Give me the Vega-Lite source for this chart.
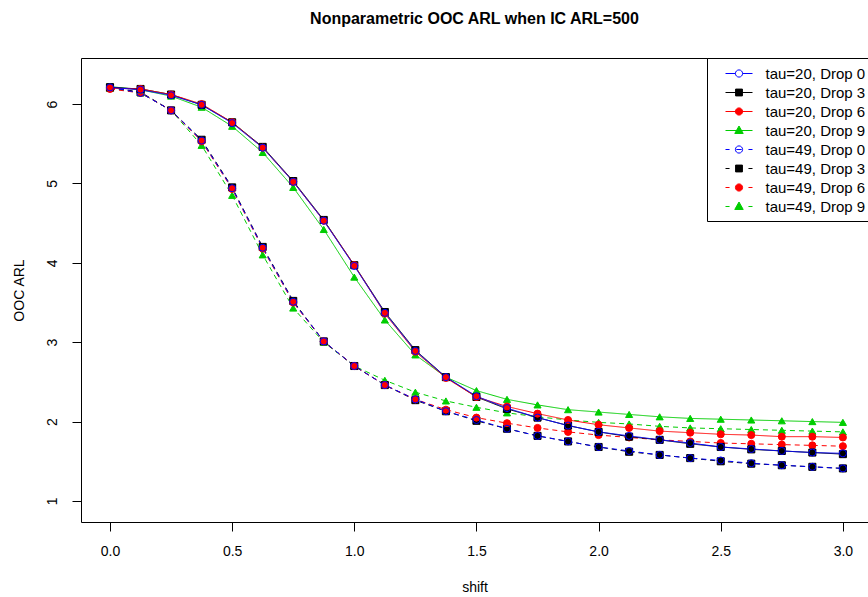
{
  "$schema": "https://vega.github.io/schema/vega-lite/v6.json",
  "width": 787,
  "height": 464,
  "autosize": {"type": "none"},
  "padding": {"left": 81, "top": 58, "right": 0, "bottom": 75},
  "background": "white",
  "title": {"text": "Nonparametric OOC ARL when IC ARL=500", "font": "Liberation Sans", "fontSize": 16, "fontWeight": "bold", "color": "black", "anchor": "middle", "baseline": "alphabetic", "offset": 18},
  "datasets": {
    "arl": [
      {"shift": 0, "arl": 6.20, "series": "tau=49, Drop 9"},
      {"shift": 0.125, "arl": 6.14, "series": "tau=49, Drop 9"},
      {"shift": 0.25, "arl": 5.92, "series": "tau=49, Drop 9"},
      {"shift": 0.375, "arl": 5.48, "series": "tau=49, Drop 9"},
      {"shift": 0.5, "arl": 4.85, "series": "tau=49, Drop 9"},
      {"shift": 0.625, "arl": 4.10, "series": "tau=49, Drop 9"},
      {"shift": 0.75, "arl": 3.43, "series": "tau=49, Drop 9"},
      {"shift": 0.875, "arl": 3.00, "series": "tau=49, Drop 9"},
      {"shift": 1, "arl": 2.70, "series": "tau=49, Drop 9"},
      {"shift": 1.125, "arl": 2.52, "series": "tau=49, Drop 9"},
      {"shift": 1.25, "arl": 2.37, "series": "tau=49, Drop 9"},
      {"shift": 1.375, "arl": 2.26, "series": "tau=49, Drop 9"},
      {"shift": 1.5, "arl": 2.18, "series": "tau=49, Drop 9"},
      {"shift": 1.625, "arl": 2.11, "series": "tau=49, Drop 9"},
      {"shift": 1.75, "arl": 2.06, "series": "tau=49, Drop 9"},
      {"shift": 1.875, "arl": 2.02, "series": "tau=49, Drop 9"},
      {"shift": 2, "arl": 1.99, "series": "tau=49, Drop 9"},
      {"shift": 2.125, "arl": 1.97, "series": "tau=49, Drop 9"},
      {"shift": 2.25, "arl": 1.94, "series": "tau=49, Drop 9"},
      {"shift": 2.375, "arl": 1.92, "series": "tau=49, Drop 9"},
      {"shift": 2.5, "arl": 1.91, "series": "tau=49, Drop 9"},
      {"shift": 2.625, "arl": 1.90, "series": "tau=49, Drop 9"},
      {"shift": 2.75, "arl": 1.89, "series": "tau=49, Drop 9"},
      {"shift": 2.875, "arl": 1.88, "series": "tau=49, Drop 9"},
      {"shift": 3, "arl": 1.87, "series": "tau=49, Drop 9"},

      {"shift": 0, "arl": 6.21, "series": "tau=49, Drop 3"},
      {"shift": 0.125, "arl": 6.15, "series": "tau=49, Drop 3"},
      {"shift": 0.25, "arl": 5.92, "series": "tau=49, Drop 3"},
      {"shift": 0.375, "arl": 5.55, "series": "tau=49, Drop 3"},
      {"shift": 0.5, "arl": 4.95, "series": "tau=49, Drop 3"},
      {"shift": 0.625, "arl": 4.20, "series": "tau=49, Drop 3"},
      {"shift": 0.75, "arl": 3.52, "series": "tau=49, Drop 3"},
      {"shift": 0.875, "arl": 3.01, "series": "tau=49, Drop 3"},
      {"shift": 1, "arl": 2.70, "series": "tau=49, Drop 3"},
      {"shift": 1.125, "arl": 2.46, "series": "tau=49, Drop 3"},
      {"shift": 1.25, "arl": 2.27, "series": "tau=49, Drop 3"},
      {"shift": 1.375, "arl": 2.13, "series": "tau=49, Drop 3"},
      {"shift": 1.5, "arl": 2.01, "series": "tau=49, Drop 3"},
      {"shift": 1.625, "arl": 1.91, "series": "tau=49, Drop 3"},
      {"shift": 1.75, "arl": 1.82, "series": "tau=49, Drop 3"},
      {"shift": 1.875, "arl": 1.75, "series": "tau=49, Drop 3"},
      {"shift": 2, "arl": 1.68, "series": "tau=49, Drop 3"},
      {"shift": 2.125, "arl": 1.62, "series": "tau=49, Drop 3"},
      {"shift": 2.25, "arl": 1.58, "series": "tau=49, Drop 3"},
      {"shift": 2.375, "arl": 1.54, "series": "tau=49, Drop 3"},
      {"shift": 2.5, "arl": 1.50, "series": "tau=49, Drop 3"},
      {"shift": 2.625, "arl": 1.47, "series": "tau=49, Drop 3"},
      {"shift": 2.75, "arl": 1.45, "series": "tau=49, Drop 3"},
      {"shift": 2.875, "arl": 1.43, "series": "tau=49, Drop 3"},
      {"shift": 3, "arl": 1.41, "series": "tau=49, Drop 3"},

      {"shift": 0, "arl": 6.19, "series": "tau=49, Drop 6"},
      {"shift": 0.125, "arl": 6.14, "series": "tau=49, Drop 6"},
      {"shift": 0.25, "arl": 5.92, "series": "tau=49, Drop 6"},
      {"shift": 0.375, "arl": 5.53, "series": "tau=49, Drop 6"},
      {"shift": 0.5, "arl": 4.93, "series": "tau=49, Drop 6"},
      {"shift": 0.625, "arl": 4.18, "series": "tau=49, Drop 6"},
      {"shift": 0.75, "arl": 3.50, "series": "tau=49, Drop 6"},
      {"shift": 0.875, "arl": 3.01, "series": "tau=49, Drop 6"},
      {"shift": 1, "arl": 2.70, "series": "tau=49, Drop 6"},
      {"shift": 1.125, "arl": 2.46, "series": "tau=49, Drop 6"},
      {"shift": 1.25, "arl": 2.28, "series": "tau=49, Drop 6"},
      {"shift": 1.375, "arl": 2.15, "series": "tau=49, Drop 6"},
      {"shift": 1.5, "arl": 2.05, "series": "tau=49, Drop 6"},
      {"shift": 1.625, "arl": 1.98, "series": "tau=49, Drop 6"},
      {"shift": 1.75, "arl": 1.92, "series": "tau=49, Drop 6"},
      {"shift": 1.875, "arl": 1.87, "series": "tau=49, Drop 6"},
      {"shift": 2, "arl": 1.83, "series": "tau=49, Drop 6"},
      {"shift": 2.125, "arl": 1.80, "series": "tau=49, Drop 6"},
      {"shift": 2.25, "arl": 1.77, "series": "tau=49, Drop 6"},
      {"shift": 2.375, "arl": 1.75, "series": "tau=49, Drop 6"},
      {"shift": 2.5, "arl": 1.73, "series": "tau=49, Drop 6"},
      {"shift": 2.625, "arl": 1.72, "series": "tau=49, Drop 6"},
      {"shift": 2.75, "arl": 1.71, "series": "tau=49, Drop 6"},
      {"shift": 2.875, "arl": 1.70, "series": "tau=49, Drop 6"},
      {"shift": 3, "arl": 1.69, "series": "tau=49, Drop 6"},

      {"shift": 0, "arl": 6.21, "series": "tau=49, Drop 0"},
      {"shift": 0.125, "arl": 6.14, "series": "tau=49, Drop 0"},
      {"shift": 0.25, "arl": 5.92, "series": "tau=49, Drop 0"},
      {"shift": 0.375, "arl": 5.54, "series": "tau=49, Drop 0"},
      {"shift": 0.5, "arl": 4.94, "series": "tau=49, Drop 0"},
      {"shift": 0.625, "arl": 4.19, "series": "tau=49, Drop 0"},
      {"shift": 0.75, "arl": 3.51, "series": "tau=49, Drop 0"},
      {"shift": 0.875, "arl": 3.01, "series": "tau=49, Drop 0"},
      {"shift": 1, "arl": 2.70, "series": "tau=49, Drop 0"},
      {"shift": 1.125, "arl": 2.46, "series": "tau=49, Drop 0"},
      {"shift": 1.25, "arl": 2.28, "series": "tau=49, Drop 0"},
      {"shift": 1.375, "arl": 2.13, "series": "tau=49, Drop 0"},
      {"shift": 1.5, "arl": 2.02, "series": "tau=49, Drop 0"},
      {"shift": 1.625, "arl": 1.91, "series": "tau=49, Drop 0"},
      {"shift": 1.75, "arl": 1.82, "series": "tau=49, Drop 0"},
      {"shift": 1.875, "arl": 1.75, "series": "tau=49, Drop 0"},
      {"shift": 2, "arl": 1.68, "series": "tau=49, Drop 0"},
      {"shift": 2.125, "arl": 1.63, "series": "tau=49, Drop 0"},
      {"shift": 2.25, "arl": 1.58, "series": "tau=49, Drop 0"},
      {"shift": 2.375, "arl": 1.54, "series": "tau=49, Drop 0"},
      {"shift": 2.5, "arl": 1.51, "series": "tau=49, Drop 0"},
      {"shift": 2.625, "arl": 1.475, "series": "tau=49, Drop 0"},
      {"shift": 2.75, "arl": 1.45, "series": "tau=49, Drop 0"},
      {"shift": 2.875, "arl": 1.43, "series": "tau=49, Drop 0"},
      {"shift": 3, "arl": 1.41, "series": "tau=49, Drop 0"},

      {"shift": 0, "arl": 6.22, "series": "tau=20, Drop 9"},
      {"shift": 0.125, "arl": 6.18, "series": "tau=20, Drop 9"},
      {"shift": 0.25, "arl": 6.10, "series": "tau=20, Drop 9"},
      {"shift": 0.375, "arl": 5.96, "series": "tau=20, Drop 9"},
      {"shift": 0.5, "arl": 5.72, "series": "tau=20, Drop 9"},
      {"shift": 0.625, "arl": 5.39, "series": "tau=20, Drop 9"},
      {"shift": 0.75, "arl": 4.95, "series": "tau=20, Drop 9"},
      {"shift": 0.875, "arl": 4.42, "series": "tau=20, Drop 9"},
      {"shift": 1, "arl": 3.82, "series": "tau=20, Drop 9"},
      {"shift": 1.125, "arl": 3.28, "series": "tau=20, Drop 9"},
      {"shift": 1.25, "arl": 2.84, "series": "tau=20, Drop 9"},
      {"shift": 1.375, "arl": 2.56, "series": "tau=20, Drop 9"},
      {"shift": 1.5, "arl": 2.39, "series": "tau=20, Drop 9"},
      {"shift": 1.625, "arl": 2.28, "series": "tau=20, Drop 9"},
      {"shift": 1.75, "arl": 2.21, "series": "tau=20, Drop 9"},
      {"shift": 1.875, "arl": 2.15, "series": "tau=20, Drop 9"},
      {"shift": 2, "arl": 2.12, "series": "tau=20, Drop 9"},
      {"shift": 2.125, "arl": 2.09, "series": "tau=20, Drop 9"},
      {"shift": 2.25, "arl": 2.06, "series": "tau=20, Drop 9"},
      {"shift": 2.375, "arl": 2.04, "series": "tau=20, Drop 9"},
      {"shift": 2.5, "arl": 2.03, "series": "tau=20, Drop 9"},
      {"shift": 2.625, "arl": 2.02, "series": "tau=20, Drop 9"},
      {"shift": 2.75, "arl": 2.01, "series": "tau=20, Drop 9"},
      {"shift": 2.875, "arl": 2.00, "series": "tau=20, Drop 9"},
      {"shift": 3, "arl": 1.99, "series": "tau=20, Drop 9"},

      {"shift": 0, "arl": 6.21, "series": "tau=20, Drop 3"},
      {"shift": 0.125, "arl": 6.19, "series": "tau=20, Drop 3"},
      {"shift": 0.25, "arl": 6.12, "series": "tau=20, Drop 3"},
      {"shift": 0.375, "arl": 5.99, "series": "tau=20, Drop 3"},
      {"shift": 0.5, "arl": 5.77, "series": "tau=20, Drop 3"},
      {"shift": 0.625, "arl": 5.46, "series": "tau=20, Drop 3"},
      {"shift": 0.75, "arl": 5.03, "series": "tau=20, Drop 3"},
      {"shift": 0.875, "arl": 4.54, "series": "tau=20, Drop 3"},
      {"shift": 1, "arl": 3.97, "series": "tau=20, Drop 3"},
      {"shift": 1.125, "arl": 3.38, "series": "tau=20, Drop 3"},
      {"shift": 1.25, "arl": 2.90, "series": "tau=20, Drop 3"},
      {"shift": 1.375, "arl": 2.56, "series": "tau=20, Drop 3"},
      {"shift": 1.5, "arl": 2.31, "series": "tau=20, Drop 3"},
      {"shift": 1.625, "arl": 2.16, "series": "tau=20, Drop 3"},
      {"shift": 1.75, "arl": 2.05, "series": "tau=20, Drop 3"},
      {"shift": 1.875, "arl": 1.95, "series": "tau=20, Drop 3"},
      {"shift": 2, "arl": 1.87, "series": "tau=20, Drop 3"},
      {"shift": 2.125, "arl": 1.81, "series": "tau=20, Drop 3"},
      {"shift": 2.25, "arl": 1.77, "series": "tau=20, Drop 3"},
      {"shift": 2.375, "arl": 1.72, "series": "tau=20, Drop 3"},
      {"shift": 2.5, "arl": 1.68, "series": "tau=20, Drop 3"},
      {"shift": 2.625, "arl": 1.65, "series": "tau=20, Drop 3"},
      {"shift": 2.75, "arl": 1.63, "series": "tau=20, Drop 3"},
      {"shift": 2.875, "arl": 1.61, "series": "tau=20, Drop 3"},
      {"shift": 3, "arl": 1.59, "series": "tau=20, Drop 3"},

      {"shift": 0, "arl": 6.20, "series": "tau=20, Drop 6"},
      {"shift": 0.125, "arl": 6.19, "series": "tau=20, Drop 6"},
      {"shift": 0.25, "arl": 6.12, "series": "tau=20, Drop 6"},
      {"shift": 0.375, "arl": 6.00, "series": "tau=20, Drop 6"},
      {"shift": 0.5, "arl": 5.77, "series": "tau=20, Drop 6"},
      {"shift": 0.625, "arl": 5.45, "series": "tau=20, Drop 6"},
      {"shift": 0.75, "arl": 5.02, "series": "tau=20, Drop 6"},
      {"shift": 0.875, "arl": 4.53, "series": "tau=20, Drop 6"},
      {"shift": 1, "arl": 3.97, "series": "tau=20, Drop 6"},
      {"shift": 1.125, "arl": 3.36, "series": "tau=20, Drop 6"},
      {"shift": 1.25, "arl": 2.88, "series": "tau=20, Drop 6"},
      {"shift": 1.375, "arl": 2.55, "series": "tau=20, Drop 6"},
      {"shift": 1.5, "arl": 2.31, "series": "tau=20, Drop 6"},
      {"shift": 1.625, "arl": 2.19, "series": "tau=20, Drop 6"},
      {"shift": 1.75, "arl": 2.10, "series": "tau=20, Drop 6"},
      {"shift": 1.875, "arl": 2.02, "series": "tau=20, Drop 6"},
      {"shift": 2, "arl": 1.96, "series": "tau=20, Drop 6"},
      {"shift": 2.125, "arl": 1.92, "series": "tau=20, Drop 6"},
      {"shift": 2.25, "arl": 1.88, "series": "tau=20, Drop 6"},
      {"shift": 2.375, "arl": 1.86, "series": "tau=20, Drop 6"},
      {"shift": 2.5, "arl": 1.84, "series": "tau=20, Drop 6"},
      {"shift": 2.625, "arl": 1.83, "series": "tau=20, Drop 6"},
      {"shift": 2.75, "arl": 1.81, "series": "tau=20, Drop 6"},
      {"shift": 2.875, "arl": 1.81, "series": "tau=20, Drop 6"},
      {"shift": 3, "arl": 1.80, "series": "tau=20, Drop 6"},

      {"shift": 0, "arl": 6.21, "series": "tau=20, Drop 0"},
      {"shift": 0.125, "arl": 6.18, "series": "tau=20, Drop 0"},
      {"shift": 0.25, "arl": 6.11, "series": "tau=20, Drop 0"},
      {"shift": 0.375, "arl": 5.99, "series": "tau=20, Drop 0"},
      {"shift": 0.5, "arl": 5.76, "series": "tau=20, Drop 0"},
      {"shift": 0.625, "arl": 5.45, "series": "tau=20, Drop 0"},
      {"shift": 0.75, "arl": 5.02, "series": "tau=20, Drop 0"},
      {"shift": 0.875, "arl": 4.53, "series": "tau=20, Drop 0"},
      {"shift": 1, "arl": 3.96, "series": "tau=20, Drop 0"},
      {"shift": 1.125, "arl": 3.37, "series": "tau=20, Drop 0"},
      {"shift": 1.25, "arl": 2.89, "series": "tau=20, Drop 0"},
      {"shift": 1.375, "arl": 2.56, "series": "tau=20, Drop 0"},
      {"shift": 1.5, "arl": 2.32, "series": "tau=20, Drop 0"},
      {"shift": 1.625, "arl": 2.17, "series": "tau=20, Drop 0"},
      {"shift": 1.75, "arl": 2.05, "series": "tau=20, Drop 0"},
      {"shift": 1.875, "arl": 1.95, "series": "tau=20, Drop 0"},
      {"shift": 2, "arl": 1.87, "series": "tau=20, Drop 0"},
      {"shift": 2.125, "arl": 1.82, "series": "tau=20, Drop 0"},
      {"shift": 2.25, "arl": 1.77, "series": "tau=20, Drop 0"},
      {"shift": 2.375, "arl": 1.73, "series": "tau=20, Drop 0"},
      {"shift": 2.5, "arl": 1.68, "series": "tau=20, Drop 0"},
      {"shift": 2.625, "arl": 1.655, "series": "tau=20, Drop 0"},
      {"shift": 2.75, "arl": 1.63, "series": "tau=20, Drop 0"},
      {"shift": 2.875, "arl": 1.61, "series": "tau=20, Drop 0"},
      {"shift": 3, "arl": 1.60, "series": "tau=20, Drop 0"}
    ]
  },
  "data": {"name": "arl"},
  "encoding": {
    "x": {
      "field": "shift", "type": "quantitative",
      "scale": {"domain": [-0.1187, 3.1028], "nice": false, "zero": false},
      "axis": {"title": "shift", "values": [0, 0.5, 1, 1.5, 2, 2.5, 3], "format": ".1f", "labelPadding": 13, "titlePadding": 22}
    },
    "y": {
      "field": "arl", "type": "quantitative",
      "scale": {"domain": [0.735, 6.58], "nice": false, "zero": false},
      "axis": {"title": "OOC ARL", "values": [1, 2, 3, 4, 5, 6], "format": "d", "labelAngle": 270, "labelAlign": "center", "labelBaseline": "bottom", "labelPadding": 13, "titlePadding": 19}
    }
  },
  "layer": [
    {
      "mark": {"type": "line", "strokeWidth": 1},
      "encoding": {
        "stroke": {"field": "series", "type": "nominal", "legend": null,
          "scale": {"domain": ["tau=20, Drop 0", "tau=20, Drop 3", "tau=20, Drop 6", "tau=20, Drop 9", "tau=49, Drop 0", "tau=49, Drop 3", "tau=49, Drop 6", "tau=49, Drop 9"],
                    "range": ["#0000FF", "#000000", "#FF0000", "#00CD00", "#0000FF", "#000000", "#FF0000", "#00CD00"]}},
        "strokeDash": {"field": "series", "type": "nominal", "legend": null,
          "scale": {"domain": ["tau=20, Drop 0", "tau=20, Drop 3", "tau=20, Drop 6", "tau=20, Drop 9", "tau=49, Drop 0", "tau=49, Drop 3", "tau=49, Drop 6", "tau=49, Drop 9"],
                    "range": [[1, 0], [1, 0], [1, 0], [1, 0], [5, 4], [5, 4], [5, 4], [5, 4]]}}
      }
    },
    {
      "mark": {"type": "point", "strokeWidth": 1, "size": 50, "opacity": 1, "fillOpacity": 1, "strokeOpacity": 1},
      "encoding": {
        "shape": {"field": "series", "type": "nominal", "legend": null,
          "scale": {"domain": ["tau=20, Drop 0", "tau=20, Drop 3", "tau=20, Drop 6", "tau=20, Drop 9", "tau=49, Drop 0", "tau=49, Drop 3", "tau=49, Drop 6", "tau=49, Drop 9"],
                    "range": ["circle", "square", "circle", "triangle-up", "circle", "square", "circle", "triangle-up"]}},
        "stroke": {"field": "series", "type": "nominal", "legend": null,
          "scale": {"domain": ["tau=20, Drop 0", "tau=20, Drop 3", "tau=20, Drop 6", "tau=20, Drop 9", "tau=49, Drop 0", "tau=49, Drop 3", "tau=49, Drop 6", "tau=49, Drop 9"],
                    "range": ["#0000FF", "#000000", "#FF0000", "#00CD00", "#0000FF", "#000000", "#FF0000", "#00CD00"]}},
        "fill": {"field": "series", "type": "nominal", "legend": null,
          "scale": {"domain": ["tau=20, Drop 0", "tau=20, Drop 3", "tau=20, Drop 6", "tau=20, Drop 9", "tau=49, Drop 0", "tau=49, Drop 3", "tau=49, Drop 6", "tau=49, Drop 9"],
                    "range": ["transparent", "#000000", "#FF0000", "#00CD00", "transparent", "#000000", "#FF0000", "#00CD00"]}}
      }
    },
    {
      "mark": {"type": "point", "opacity": 0},
      "encoding": {
        "shape": {"field": "series", "type": "nominal", "legend": {"title": null},
          "scale": {"domain": ["tau=20, Drop 0", "tau=20, Drop 3", "tau=20, Drop 6", "tau=20, Drop 9", "tau=49, Drop 0", "tau=49, Drop 3", "tau=49, Drop 6", "tau=49, Drop 9"],
                    "range": [
                      "M-1.5,0L-0.4,0M0.4,0L1.5,0M0.4,0A0.4,0.4,0,1,1,-0.4,0A0.4,0.4,0,1,1,0.4,0",
                      "M-1.5,0L1.5,0M-0.38,-0.38L0.38,-0.38L0.38,0.38L-0.38,0.38Z",
                      "M-1.5,0L1.5,0M0.4,0A0.4,0.4,0,1,1,-0.4,0A0.4,0.4,0,1,1,0.4,0Z",
                      "M-1.5,0L1.5,0M0,-0.5L0.47,0.33L-0.47,0.33Z",
                      "M-1.5,0L-1.05,0M1.05,0L1.5,0M-0.3,0L0.3,0M0.4,0A0.4,0.4,0,1,1,-0.4,0A0.4,0.4,0,1,1,0.4,0",
                      "M-1.5,0L-1.05,0M1.05,0L1.5,0M-0.38,-0.38L0.38,-0.38L0.38,0.38L-0.38,0.38Z",
                      "M-1.5,0L-1.05,0M1.05,0L1.5,0M0.4,0A0.4,0.4,0,1,1,-0.4,0A0.4,0.4,0,1,1,0.4,0Z",
                      "M-1.5,0L-1.05,0M1.05,0L1.5,0M0,-0.5L0.47,0.33L-0.47,0.33Z"
                    ]}},
        "stroke": {"field": "series", "type": "nominal", "legend": {"title": null},
          "scale": {"domain": ["tau=20, Drop 0", "tau=20, Drop 3", "tau=20, Drop 6", "tau=20, Drop 9", "tau=49, Drop 0", "tau=49, Drop 3", "tau=49, Drop 6", "tau=49, Drop 9"],
                    "range": ["#0000FF", "#000000", "#FF0000", "#00CD00", "#0000FF", "#000000", "#FF0000", "#00CD00"]}},
        "fill": {"field": "series", "type": "nominal", "legend": {"title": null},
          "scale": {"domain": ["tau=20, Drop 0", "tau=20, Drop 3", "tau=20, Drop 6", "tau=20, Drop 9", "tau=49, Drop 0", "tau=49, Drop 3", "tau=49, Drop 6", "tau=49, Drop 9"],
                    "range": ["transparent", "#000000", "#FF0000", "#00CD00", "transparent", "#000000", "#FF0000", "#00CD00"]}}
      }
    }
  ],
  "resolve": {
    "scale": {"shape": "independent", "stroke": "independent", "fill": "independent", "strokeDash": "independent"},
    "legend": {"shape": "independent", "stroke": "independent", "fill": "independent", "strokeDash": "independent"}
  },
  "config": {
    "view": {"stroke": "#000000", "strokeWidth": 1},
    "axis": {
      "grid": false, "domain": false, "tickSize": 9, "tickColor": "#000000", "tickWidth": 1,
      "labelFont": "Liberation Sans", "labelFontSize": 14, "labelColor": "#000000", "labelFlush": false, "labelOverlap": false,
      "titleFont": "Liberation Sans", "titleFontSize": 14, "titleFontWeight": "normal", "titleColor": "#000000"
    },
    "legend": {
      "orient": "none", "legendX": 626, "legendY": 0, "padding": 6, "strokeColor": "#000000", "fillColor": "white", "cornerRadius": 0,
      "symbolSize": 324, "symbolStrokeWidth": 1, "symbolOffset": 16.5, "symbolOpacity": 1,
      "labelOffset": 17, "labelFont": "Liberation Sans", "labelFontSize": 15, "labelColor": "#000000", "rowPadding": 1.0
    }
  }
}
